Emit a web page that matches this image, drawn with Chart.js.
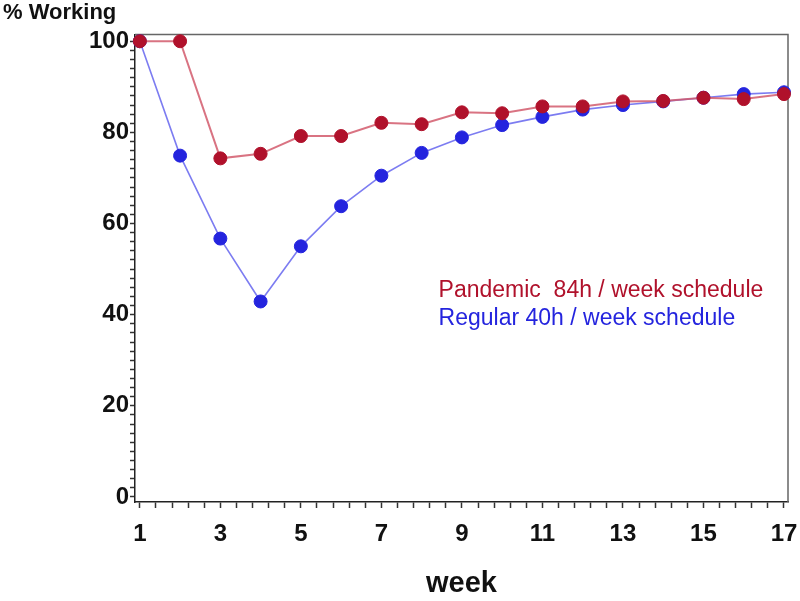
<!DOCTYPE html>
<html>
<head>
<meta charset="utf-8">
<script src="https://cdn.jsdelivr.net/npm/chart.js@4"></script>
<style>
  html, body { margin: 0; padding: 0; background: #fff; }
  #wrap { width: 800px; height: 601px; }
</style>
</head>
<body>
<div id="wrap"><canvas id="lineChart" width="800" height="601"></canvas></div>
<script>
var weeks = [1, 2, 3, 4, 5, 6, 7, 8, 9, 10, 11, 12, 13, 14, 15, 16, 17];
var pandemic = [100, 100, 74.3, 75.3, 79.2, 79.2, 82.1, 81.8, 84.4, 84.2, 85.7, 85.7, 86.8, 86.9, 87.6, 87.3, 88.4];
var regular = [100, 74.9, 56.7, 42.9, 55.0, 63.8, 70.5, 75.5, 78.9, 81.6, 83.4, 85.0, 86.0, 86.8, 87.6, 88.4, 88.8];
var weekLabels = [1, 3, 5, 7, 9, 11, 13, 15, 17];
var yLabels = [0, 20, 40, 60, 80, 100];
var legendNames = ['Pandemic  84h / week schedule', 'Regular 40h / week schedule'];

var red = '#B0112B';
var blue = '#2424DE';

function toPoints(vals) {
  return vals.map((v, i) => ({ x: weeks[i], y: v }));
}

// minor ticks: 5 per label step on x, every 2 units on y
function minorTicks(labels, parts) {
  var out = [];
  for (var i = 0; i < labels.length - 1; i++) {
    var step = (labels[i + 1] - labels[i]) / parts;
    for (var k = 0; k < parts; k++) out.push(labels[i] + k * step);
  }
  out.push(labels[labels.length - 1]);
  return out.map(v => ({ value: Math.round(v * 100) / 100 }));
}

// top and right edges of the frame
var frame = {
  id: 'frame',
  beforeDatasetsDraw(chart) {
    var a = chart.chartArea, c = chart.ctx;
    c.save();
    c.strokeStyle = '#666';
    c.lineWidth = 1.5;
    c.beginPath();
    c.moveTo(a.left, a.top);
    c.lineTo(a.right, a.top);
    c.lineTo(a.right, a.bottom);
    c.stroke();
    c.restore();
  }
};

// coloured text key inside the plot
var textKey = {
  id: 'textKey',
  afterDatasetsDraw(chart) {
    var c = chart.ctx, xs = chart.scales.x, ys = chart.scales.y;
    var x0 = xs.getPixelForValue(8.42);
    c.save();
    c.font = '23px "Liberation Sans", Arial, sans-serif';
    c.textBaseline = 'middle';
    c.textAlign = 'left';
    c.fillStyle = red;
    c.fillText(legendNames[0], x0, ys.getPixelForValue(45.2));
    c.fillStyle = blue;
    c.fillText(legendNames[1], x0, ys.getPixelForValue(39.1));
    c.restore();
  }
};

var ctx = document.getElementById('lineChart').getContext('2d');

new Chart(ctx, {
  type: 'line',
  data: {
    datasets: [
      {
        label: legendNames[0],
        data: toPoints(pandemic),
        borderColor: 'rgba(210, 90, 108, 0.85)',
        borderWidth: 2,
        pointBackgroundColor: red,
        pointBorderColor: red,
        pointRadius: 6.5,
        pointBorderWidth: 1,
        clip: false
      },
      {
        label: legendNames[1],
        data: toPoints(regular),
        borderColor: 'rgba(110, 110, 240, 0.9)',
        borderWidth: 1.6,
        pointBackgroundColor: blue,
        pointBorderColor: blue,
        pointRadius: 6.5,
        pointBorderWidth: 1,
        clip: false
      }
    ]
  },
  options: {
    responsive: false,
    animation: false,
    layout: { padding: { left: 3, right: 0, top: 0, bottom: 0 } },
    plugins: {
      legend: { display: false },
      tooltip: { enabled: false },
      title: {
        display: true,
        text: '% Working',
        align: 'start',
        color: '#111',
        font: { family: '"Liberation Sans", Arial, sans-serif', size: 22, weight: 'bold' },
        padding: { top: 0, bottom: 8 }
      }
    },
    scales: {
      x: {
        type: 'linear',
        min: 0.88,
        max: 17.1,
        afterBuildTicks: axis => { axis.ticks = minorTicks(weekLabels, 5); },
        afterFit: axis => { axis.height = 99; axis.paddingLeft = 0; axis.paddingRight = 12; },
        grid: { drawOnChartArea: false, drawTicks: true, tickLength: 6, tickColor: '#333', tickWidth: 1.5 },
        border: { color: '#222', width: 1.5 },
        ticks: {
          autoSkip: false,
          maxRotation: 0,
          padding: 12,
          color: '#111',
          font: { family: '"Liberation Sans", Arial, sans-serif', size: 24, weight: 'bold' },
          callback: v => (weekLabels.indexOf(Math.round(v * 100) / 100) >= 0 ? String(Math.round(v)) : '')
        },
        title: {
          display: true,
          text: 'week',
          color: '#111',
          font: { family: '"Liberation Sans", Arial, sans-serif', size: 29, weight: 'bold' },
          padding: { top: 0, bottom: 0 }
        }
      },
      y: {
        min: -1.1,
        max: 101.5,
        afterBuildTicks: axis => { axis.ticks = minorTicks(yLabels, 10); },
        afterFit: axis => { axis.width = 132; },
        grid: { drawOnChartArea: false, drawTicks: true, tickLength: 5, tickColor: '#333', tickWidth: 1.5 },
        border: { color: '#222', width: 1.5 },
        ticks: {
          autoSkip: false,
          padding: 1,
          color: '#111',
          font: { family: '"Liberation Sans", Arial, sans-serif', size: 24, weight: 'bold' },
          callback: v => (yLabels.indexOf(Math.round(v)) >= 0 && Math.abs(v - Math.round(v)) < 0.01 ? String(Math.round(v)) : '')
        }
      }
    }
  },
  plugins: [frame, textKey]
});
</script>
</body>
</html>
